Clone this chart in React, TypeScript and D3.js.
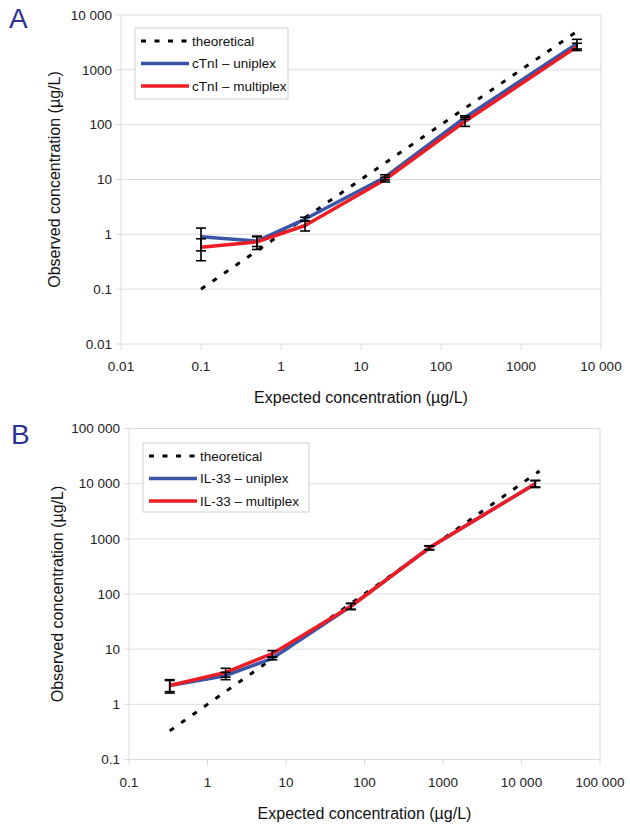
import React from 'react'
import * as d3 from 'd3'

const font = "Arial, 'Liberation Sans', Helvetica, sans-serif"

// panel A: cTnI
const expectedA = [0.1, 0.5, 2, 20, 200, 5000]
const theoryA = [0.1, 0.5, 2, 20, 200, 5000]
const uniA = [0.9, 0.75, 1.9, 11, 135, 3000]
const uniErrA = [0.4, 0.15, 0.15, 1.2, 10, 600]
const multiA = [0.58, 0.73, 1.45, 10, 115, 2650]
const multiErrA = [0.25, 0.2, 0.3, 1.0, 22, 400]
const ticksA = [0.01, 0.1, 1, 10, 100, 1000, 10000]
const tickLabelsA = ['0.01', '0.1', '1', '10', '100', '1000', '10 000']
const namesA = ['theoretical', 'cTnI \u2013 uniplex', 'cTnI \u2013 multiplex']

// panel B: IL-33
const expectedB = [0.33, 1.7, 6.7, 67, 670, 15000]
const theoryB = [0.33, 1.7, 6.7, 67, 670, 17000]
const uniB = [2.2, 3.3, 6.8, 60, 690, 10000]
const uniErrB = [0.5, 0.5, 0.4, 8, 60, 1500]
const multiB = [2.2, 3.8, 8.3, 60, 690, 10000]
const multiErrB = [0.6, 0.7, 1.1, 7, 50, 1300]
const ticksB = [0.1, 1, 10, 100, 1000, 10000, 100000]
const tickLabelsB = ['0.1', '1', '10', '100', '1000', '10 000', '100 000']
const namesB = ['theoretical', 'IL-33 \u2013 uniplex', 'IL-33 \u2013 multiplex']

const BLUE = '#3a55a5'
const RED = '#ee1d25'
const GRID = '#dcdcdc'

function Panel(props) {
  const { letter, letterY, left, right, top, bottom, ticks, tickLabels, xs, theory, uni, uniErr, multi, multiErr, names, legend, yTitleX } = props
  const dom = [ticks[0], ticks[ticks.length - 1]]
  const x = d3.scaleLog().domain(dom).range([left, right])
  const y = d3.scaleLog().domain(dom).range([bottom, top])

  const line = d3.line().x(d => x(d[0])).y(d => y(d[1]))
  const theoryPath = line(theory.map(v => [v, v]))
  const uniPath = line(xs.map((v, i) => [v, uni[i]]))
  const multiPath = line(xs.map((v, i) => [v, multi[i]]))

  const errBars = (vals, errs, key) => xs.map((v, i) => {
    const cx = x(v)
    const y1 = y(vals[i] + errs[i])
    const y2 = y(Math.max(vals[i] - errs[i], dom[0]))
    return (
      <g key={key + i} stroke="#000" strokeWidth={1.6}>
        <line x1={cx} x2={cx} y1={y1} y2={y2} />
        <line x1={cx - 5} x2={cx + 5} y1={y1} y2={y1} />
        <line x1={cx - 5} x2={cx + 5} y1={y2} y2={y2} />
      </g>
    )
  })

  const midY = (top + bottom) / 2
  const midX = (left + right) / 2

  return (
    <g fontFamily={font}>
      <text x={letterY[0]} y={letterY[1]} fontSize={28} fill="#2e3192">{letter}</text>

      {/* grid + axes */}
      {ticks.map((t, i) => (
        <g key={'y' + i}>
          <line x1={left - 5} x2={right} y1={y(t)} y2={y(t)} stroke={GRID} strokeWidth={1} />
          <text x={left - 9} y={y(t) + 4.8} textAnchor="end" fontSize={13.5} fill="#222">{tickLabels[i]}</text>
        </g>
      ))}
      {ticks.map((t, i) => (
        <g key={'x' + i}>
          <line x1={x(t)} x2={x(t)} y1={bottom} y2={bottom + 6} stroke={GRID} strokeWidth={1} />
          <text x={x(t)} y={bottom + 27} textAnchor="middle" fontSize={13.5} fill="#222">{tickLabels[i]}</text>
        </g>
      ))}
      <line x1={left} x2={left} y1={top} y2={bottom} stroke={GRID} />
      <line x1={right} x2={right} y1={top} y2={bottom} stroke={GRID} />

      <text x={midX} y={bottom + 59} textAnchor="middle" fontSize={16} fill="#111">Expected concentration (µg/L)</text>
      <text transform={`translate(${yTitleX},${midY}) rotate(-90)`} textAnchor="middle" fontSize={16} fill="#111">Observed concentration (µg/L)</text>

      {/* series */}
      <path d={theoryPath} fill="none" stroke="#000" strokeWidth={3} strokeDasharray="5,9" />
      <path d={uniPath} fill="none" stroke={BLUE} strokeWidth={3.5} strokeLinejoin="round" />
      <path d={multiPath} fill="none" stroke={RED} strokeWidth={3.5} strokeLinejoin="round" />
      {errBars(uni, uniErr, 'u')}
      {errBars(multi, multiErr, 'm')}

      {/* legend */}
      <rect x={legend.x} y={legend.y} width={legend.w} height={legend.h} fill="#fff" stroke="#cfcfcf" />
      {names.map((n, i) => {
        const ly = legend.y + 13 + i * 22.5
        const sx = legend.x + 6
        return (
          <g key={n}>
            <line x1={sx} x2={sx + 48} y1={ly} y2={ly}
              stroke={i === 0 ? '#000' : i === 1 ? BLUE : RED}
              strokeWidth={i === 0 ? 3 : 3.5}
              strokeDasharray={i === 0 ? '5,8.5' : null} />
            <text x={sx + 51} y={ly + 4.5} fontSize={13.5} fill="#111">{n}</text>
          </g>
        )
      })}
    </g>
  )
}

export default function App() {
  return (
    <div style={{ position: 'absolute', left: 0, top: 0 }}>
      <svg width={630} height={830} style={{ display: 'block', background: '#fff' }}>
        <Panel letter="A" letterY={[9, 28]} left={121} right={601} top={15} bottom={344}
          ticks={ticksA} tickLabels={tickLabelsA} xs={expectedA} theory={theoryA}
          uni={uniA} uniErr={uniErrA} multi={multiA} multiErr={multiErrA}
          names={namesA} legend={{ x: 135, y: 28, w: 153, h: 71 }} yTitleX={60} />
        <Panel letter="B" letterY={[11, 444]} left={129} right={600} top={428.5} bottom={759.5}
          ticks={ticksB} tickLabels={tickLabelsB} xs={expectedB} theory={theoryB}
          uni={uniB} uniErr={uniErrB} multi={multiB} multiErr={multiErrB}
          names={namesB} legend={{ x: 143, y: 443, w: 166, h: 69 }} yTitleX={63} />
      </svg>
    </div>
  )
}
